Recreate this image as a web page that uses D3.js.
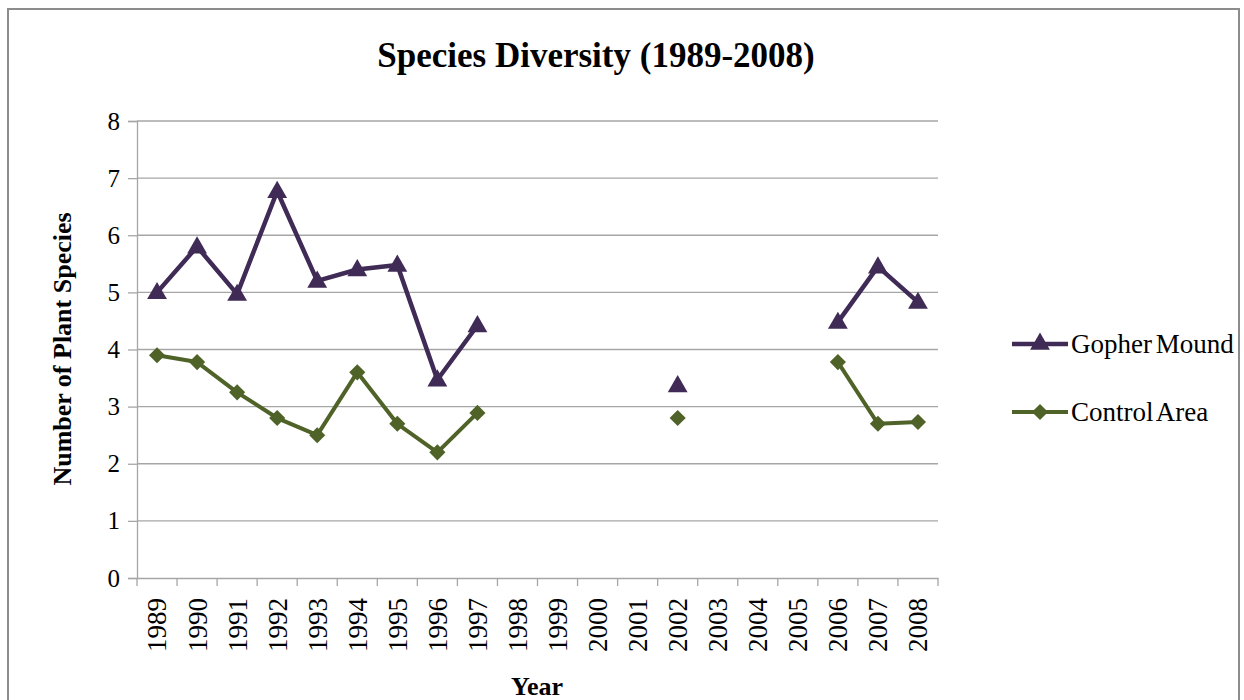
<!DOCTYPE html>
<html><head><meta charset="utf-8">
<script src="https://cdn.jsdelivr.net/npm/d3@7"></script>
<style>body{margin:0;background:#fff}svg{display:block}text{font-family:"Liberation Serif","Times New Roman",serif}</style>
</head><body><svg id="c" width="1244" height="700"></svg>
<script>
const years = ["1989","1990","1991","1992","1993","1994","1995","1996","1997","1998","1999","2000","2001","2002","2003","2004","2005","2006","2007","2008"];
const gopherMound = [5.0,5.8,4.97,6.77,5.2,5.4,5.48,3.47,4.42,null,null,null,null,3.37,null,null,null,4.48,5.45,4.83];
const controlArea = [3.9,3.78,3.25,2.8,2.5,3.6,2.7,2.2,2.89,null,null,null,null,2.8,null,null,null,3.78,2.7,2.73];
const yTicks = [0,1,2,3,4,5,6,7,8];
const seriesNames = ["Gopher Mound","Control Area"];

const svg = d3.select("#c");
svg.append("rect").attr("x",8).attr("y",9).attr("width",1231).attr("height",720)
  .attr("fill","#fff").attr("stroke","#8c8c8c").attr("stroke-width",2);

const L=137,R=938,T=121,B=578;
const x = d3.scaleBand().domain(years).range([L,R]);
const y = d3.scaleLinear().domain([0,8]).range([B,T]);

// grid
svg.append("g").selectAll("line").data(yTicks.slice(1)).join("line")
  .attr("x1",L).attr("x2",R).attr("y1",d=>y(d)).attr("y2",d=>y(d))
  .attr("stroke","#a6a6a6").attr("stroke-width",1.3);

// y axis
const ya = svg.append("g").attr("transform",`translate(${L},0)`)
  .call(d3.axisLeft(y).tickValues(yTicks).tickSize(9).tickPadding(8));
ya.select(".domain").attr("stroke","#a6a6a6").attr("stroke-width",1.3);
ya.selectAll(".tick line").attr("stroke","#a6a6a6").attr("stroke-width",1.3);
ya.selectAll("text").attr("font-size",25).attr("fill","#000").attr("font-family","Liberation Serif");

// x axis
const xa = svg.append("g").attr("transform",`translate(0,${B})`)
  .call(d3.axisBottom(x).tickSize(0).tickSizeOuter(0));
xa.select(".domain").attr("stroke","#a6a6a6").attr("stroke-width",1.3);
xa.selectAll(".tick text").attr("font-size",27).attr("fill","#000").attr("font-family","Liberation Serif")
  .attr("transform","rotate(-90)").attr("text-anchor","end").attr("dy","0.35em").attr("x",-20).attr("y",0);
const bounds = years.map(d=>x(d)).concat([R]);
svg.append("g").selectAll("line").data(bounds).join("line")
  .attr("x1",d=>d).attr("x2",d=>d).attr("y1",B).attr("y2",B+8)
  .attr("stroke","#a6a6a6").attr("stroke-width",1.3);

const cx = d=>x(d)+x.bandwidth()/2;
const colors = ["#3f2b55","#4f6228"];
const data = [gopherMound, controlArea];
const tri = d3.symbol().type(d3.symbolTriangle).size(170);
const dia = d3.symbol().type(d3.symbolSquare).size(130);

data.forEach((vals,i)=>{
  const pts = years.map((yr,j)=>({yr,v:vals[j]}));
  const line = d3.line().defined(p=>p.v!=null).x(p=>cx(p.yr)).y(p=>y(p.v));
  svg.append("path").datum(pts).attr("d",line).attr("fill","none")
    .attr("stroke",colors[i]).attr("stroke-width",i===0?4.5:4).attr("stroke-linejoin","round");
  svg.append("g").selectAll("path").data(pts.filter(p=>p.v!=null)).join("path")
    .attr("d",i===0?tri():dia())
    .attr("transform",p=>`translate(${cx(p.yr)},${y(p.v)+(i===0?1:0)})${i===1?" rotate(45)":""}`)
    .attr("fill",colors[i]);
});

// title
svg.append("text").attr("x",596).attr("y",67).attr("text-anchor","middle")
  .attr("font-size",35).attr("font-weight","bold").text("Species Diversity (1989-2008)");
// axis titles
svg.append("text").attr("transform","translate(71,349) rotate(-90)").attr("text-anchor","middle")
  .attr("font-size",26).attr("font-weight","bold").text("Number of Plant Species");
svg.append("text").attr("x",537).attr("y",695).attr("text-anchor","middle")
  .attr("font-size",26).attr("font-weight","bold").text("Year");

// legend
const lg = svg.append("g");
seriesNames.forEach((n,i)=>{
  const ly = 344 + i*68;
  lg.append("line").attr("x1",1012).attr("x2",1068).attr("y1",ly).attr("y2",ly)
    .attr("stroke",colors[i]).attr("stroke-width",i===0?4.5:4);
  lg.append("path").attr("d",i===0?tri():dia())
    .attr("transform",`translate(1040,${ly})${i===1?" rotate(45)":""}`).attr("fill",colors[i]);
  lg.append("text").attr("x",1071).attr("y",ly+9).attr("font-size",27).attr("word-spacing",-3).text(n);
});
</script></body></html>
